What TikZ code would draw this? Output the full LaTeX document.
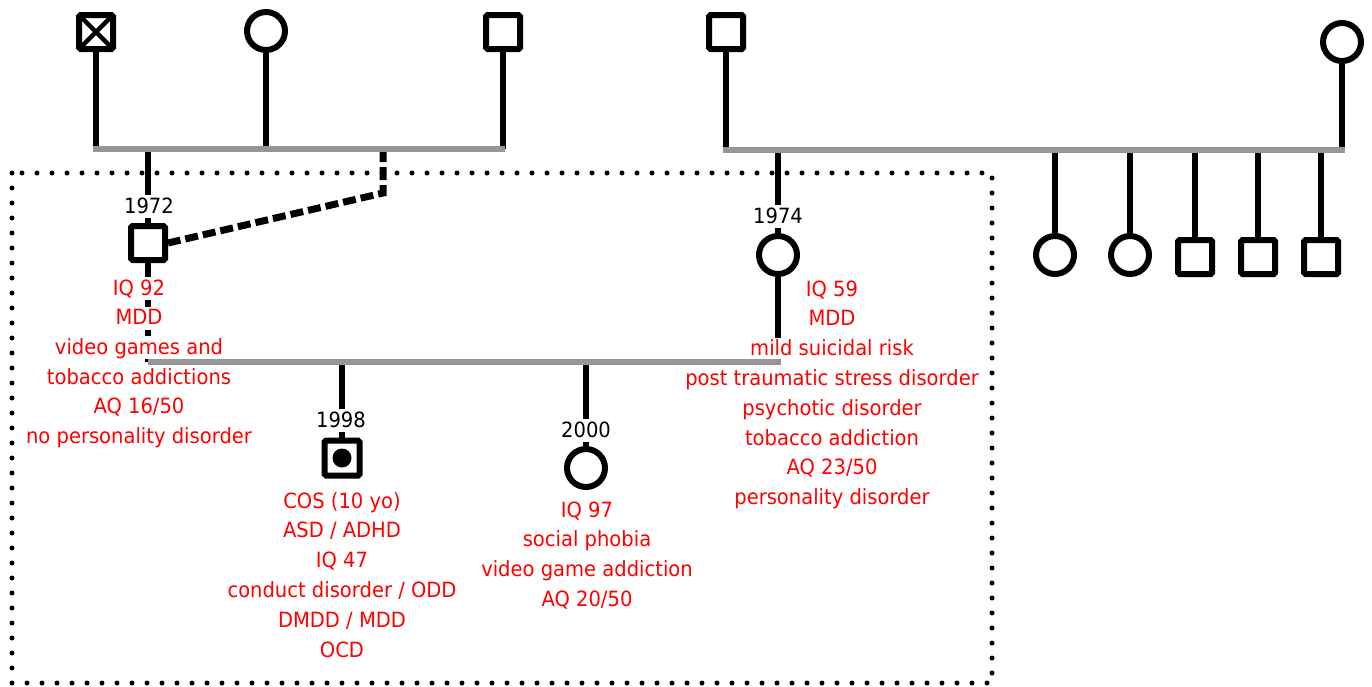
\documentclass[tikz,border=0pt]{standalone}
\usepackage{fontspec}
\setmainfont{DejaVu Sans}[FakeStretch=0.93]
\usepackage{tikz}
\usepackage{xcolor}
\definecolor{notered}{RGB}{255,0,0}
\definecolor{uniongray}{RGB}{150,150,150}
\newcommand{\pedfont}{\fontsize{21}{25}\selectfont}
\tikzset{
  % male symbol
  male/.style={rectangle, draw, line width=6pt, fill=white, minimum size=34pt,
               inner sep=0pt, rounded corners=1.5pt},
  % female symbol
  female/.style={circle, draw, line width=6pt, fill=white, minimum size=38pt, inner sep=0pt},
  % deceased male: crossed box
  deceased/.style={male, path picture={
      \draw[line width=4.5pt] (path picture bounding box.north west) -- (path picture bounding box.south east)
                              (path picture bounding box.north east) -- (path picture bounding box.south west);}},
  % index case: box with a dot
  proband/.style={male, minimum size=35pt, path picture={
      \fill[black] (path picture bounding box.center) circle (9.5pt);}},
  % lines of descent
  kin/.style={line width=6.5pt},
  % sibship / union line
  union/.style={line width=6.5pt, draw=uniongray},
  % dashed link
  adoptlink/.style={line width=7pt, dash pattern=on 13pt off 5pt},
  % dotted frame
  famframe/.style={line width=5pt, dash pattern=on 0pt off 15pt, line cap=round},
  % birth year
  yearlbl/.style={font=\pedfont, fill=white, anchor=base, inner xsep=1pt, inner ysep=2pt,
                  text height=16pt, text depth=3pt},
  % clinical note
  note/.style={yearlbl, text=notered},
}

\begin{document}
\begin{tikzpicture}[x=1pt, y=-1pt]
  \useasboundingbox (0,0) rectangle (1372,686);

  % ═══════ FRAME ═══════
  \draw[famframe] (12,173) rectangle (992,683);

  % ═══════ PATERNAL SIDE ═══════
  \node[deceased] (pgf) at (96,32) {};
  \node[female] (pgm) at (266,31) {};
  \node[male] (psf) at (503,32) {};
  \coordinate (pul) at (93,149);
  \coordinate (pur) at (505,149);

  % ═══════ MATERNAL SIDE ═══════
  \node[male] (mgf) at (726,32) {};
  \node[female] (mgm) at (1342,42) {};
  \coordinate (mul) at (723,150);
  \coordinate (mur) at (1345,150);
  % mother's sibs
  \node[female] (ms1) at (1055,255) {};
  \node[female] (ms2) at (1130,255) {};
  \node[male] (ms3) at (1195,257) {};
  \node[male] (ms4) at (1258,257) {};
  \node[male] (ms5) at (1321,257) {};

  % ═══════ PARENTS ═══════
  \node[male] (father) at (148,243) {};
  \node[female] (mother) at (778,255) {};
  \coordinate (cul) at (148,362);
  \coordinate (cur) at (781,362);
  \coordinate (adopt) at (383,193);

  % ═══════ CHILDREN ═══════
  \node[proband] (son) at (342,458) {};
  \node[female] (daughter) at (586,468) {};

  % descent lines
  \foreach \n in {pgf,pgm,psf} \draw[kin] (\n) -- (\n |- pul);
  \foreach \n in {mgf,mgm} \draw[kin] (\n) -- (\n |- mul);
  \foreach \n in {ms1,ms2,ms3,ms4,ms5} \draw[kin] (\n |- mul) -- (\n);
  \draw[kin] (father |- pul) -- (father) -- (father |- cul);
  \draw[kin] (mother |- mul) -- (mother) -- (mother |- cur);
  \draw[kin] (son |- cul) -- (son);
  \draw[kin] (daughter |- cul) -- (daughter);
  \draw[adoptlink] (adopt |- pul) -- (adopt) -- (father.east);

  % birth years
  \node[yearlbl] (y1972) at (149,213) {1972};
  \node[yearlbl] (y1974) at (778,223) {1974};
  \node[yearlbl] (y1998) at (341,427) {1998};
  \node[yearlbl] (y2000) at (586,437) {2000};

  % clinical notes
  \foreach \txt [count=\i from 0] in {IQ 92, MDD, video games and, tobacco addictions,
      AQ 16/50, no personality disorder}
    \node[note] (fn\i) at (139, 295+29.7*\i) {\txt};
  \foreach \txt [count=\i from 0] in {IQ 59, MDD, mild suicidal risk, post traumatic stress disorder,
      psychotic disorder, tobacco addiction, AQ 23/50, personality disorder}
    \node[note] (mn\i) at (832, 296+29.8*\i) {\txt};
  \foreach \txt [count=\i from 0] in {COS (10 yo), ASD / ADHD, IQ 47, conduct disorder / ODD,
      DMDD / MDD, OCD}
    \node[note] (sn\i) at (342, 508+29.8*\i) {\txt};
  \foreach \txt [count=\i from 0] in {IQ 97, social phobia, video game addiction, AQ 20/50}
    \node[note] (dn\i) at (587, 517+29.7*\i) {\txt};

  % union lines
  \draw[union] (pul) -- (pur);
  \draw[union] (mul) -- (mur);
  \draw[union] (cul) -- (cur);

\end{tikzpicture}
\end{document}
